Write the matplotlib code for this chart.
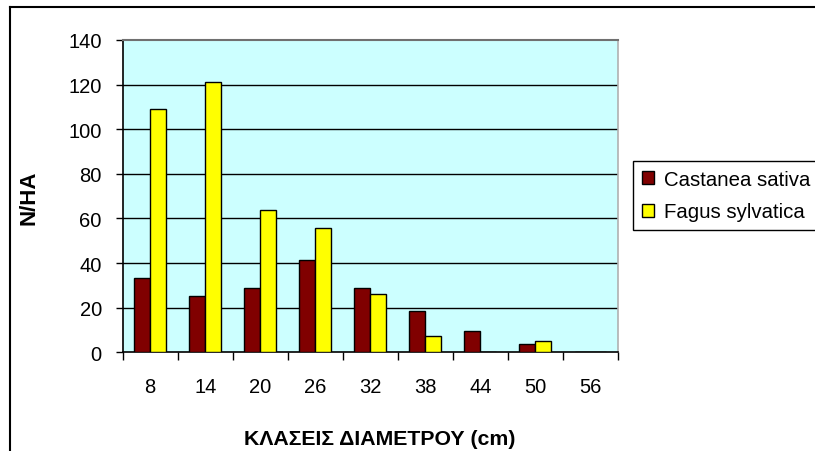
import matplotlib
matplotlib.use("Agg")
import matplotlib.pyplot as plt
from matplotlib.patches import Patch
from matplotlib.lines import Line2D
import numpy as np

plt.rcParams['font.family'] = ['Liberation Sans', 'DejaVu Sans']

categories = ["8", "14", "20", "26", "32", "38", "44", "50", "56"]
castanea = [33.4, 25.1, 29.0, 41.2, 28.8, 18.4, 9.4, 3.7, 0]
fagus = [108.9, 121.3, 63.8, 55.9, 26.3, 7.4, 0, 4.9, 0]
series_names = ["Castanea sativa", "Fagus sylvatica"]
yticks = [0, 20, 40, 60, 80, 100, 120, 140]

W, H = 815, 452
fig = plt.figure(figsize=(W / 100, H / 100), dpi=100)
fig.patch.set_facecolor('white')

left, right, top, bottom = 122.7, 618.0, 41.0, 353.3
ax = fig.add_axes([left / W, 1 - bottom / H, (right - left) / W, (bottom - top) / H])
ax.set_facecolor('#CCFFFF')

x = np.arange(len(categories))
bw = 0.29
c_col = '#800000'
f_col = '#FFFF00'
ax.bar(x - bw / 2, castanea, width=bw, color=c_col, edgecolor='black', linewidth=1.0, zorder=3)
ax.bar(x + bw / 2, fagus, width=bw, color=f_col, edgecolor='black', linewidth=1.0, zorder=3)

ax.set_xlim(-0.5, len(categories) - 0.5)
ax.set_ylim(0, 140)
ax.set_yticks(yticks)
ax.set_yticklabels([str(v) for v in yticks])
for v in yticks[1:-1]:
    ax.axhline(v, color='black', linewidth=1.0, zorder=1)

ax.set_xticks(np.arange(-0.5, len(categories), 1.0))
ax.set_xticklabels([])
ax.set_xticks(x, minor=True)
ax.set_xticklabels(categories, minor=True)
ax.tick_params(axis='x', which='major', length=6, width=1, direction='out', color='black')
ax.tick_params(axis='x', which='minor', length=0, pad=18, labelsize=14.5)
ax.tick_params(axis='y', length=5, width=1, direction='out', pad=10, labelsize=14.5)

for s in ['left', 'bottom']:
    ax.spines[s].set_color('black')
    ax.spines[s].set_linewidth(1.2)
ax.spines['top'].set_color('#707070')
ax.spines['top'].set_linewidth(1.5)
ax.spines['right'].set_color('#B0B0B0')
ax.spines['right'].set_linewidth(1.2)

fig.text(29 / W, 1 - 198 / H, "N/HA", rotation=90, ha='center', va='center',
         fontsize=16, fontweight='bold')
fig.text(379.5 / W, 1 - 440 / H, "ΚΛΑΣΕΙΣ ΔΙΑΜΕΤΡΟΥ (cm)", ha='center', va='center',
         fontsize=15.3, fontweight='bold')

handles = [Patch(facecolor=c_col, edgecolor='black', linewidth=1.0),
           Patch(facecolor=f_col, edgecolor='black', linewidth=1.0)]
leg = fig.legend(handles, series_names, loc='upper left',
                 bbox_to_anchor=(633 / W, 1 - 162 / H), borderaxespad=0,
                 fontsize=14.7, frameon=True, fancybox=False, framealpha=1,
                 edgecolor='black', handlelength=0.6, handleheight=0.6,
                 handletextpad=0.5, labelspacing=0.68, borderpad=0.42)
leg.get_frame().set_linewidth(1.0)

# outer chart frame (partially cropped)
fig.add_artist(Line2D([10 / W, 10 / W], [0, 1 - 8 / H], transform=fig.transFigure,
                      color='black', linewidth=1.5))
fig.add_artist(Line2D([10 / W, 1], [1 - 8 / H, 1 - 8 / H], transform=fig.transFigure,
                      color='black', linewidth=1.5))

fig.savefig("out.png", dpi=100, facecolor='white')
